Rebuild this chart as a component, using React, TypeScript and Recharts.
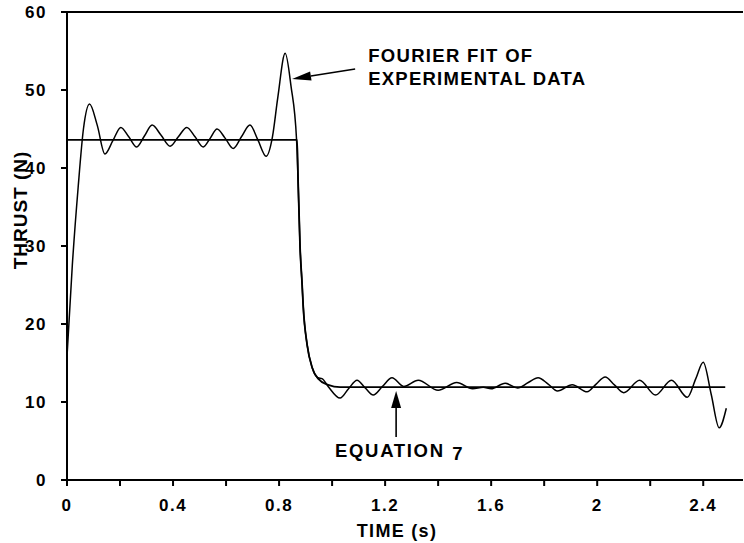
import React from 'react';
import { LineChart, Line, XAxis, YAxis, ReferenceLine, ReferenceDot } from 'recharts';

// Fourier fit of experimental data (time s, thrust N)
const fourierTime = [
  0.0, 0.02, 0.042, 0.062, 0.085, 0.114, 0.143, 0.173, 0.203, 0.233, 0.263, 0.292, 0.321, 0.355,
  0.389, 0.42, 0.452, 0.483, 0.514, 0.54, 0.566, 0.597, 0.627, 0.658, 0.69, 0.72, 0.751, 0.775,
  0.795, 0.823, 0.845, 0.866, 0.872, 0.879, 0.887, 0.891, 0.906, 0.925, 0.947, 0.962, 0.985,
  1.03, 1.062, 1.094, 1.125, 1.155, 1.19, 1.226, 1.27, 1.325, 1.4, 1.47, 1.53, 1.57, 1.6, 1.653,
  1.7, 1.74, 1.777, 1.815, 1.85, 1.906, 1.962, 1.996, 2.03, 2.065, 2.1, 2.16, 2.22, 2.28, 2.34,
  2.372, 2.4, 2.43, 2.46, 2.487,
];
const fourierThrust = [
  15.8, 27.5, 37.5, 45.0, 48.2, 45.5, 41.8, 43.5, 45.2, 44.0, 42.7, 44.1, 45.5, 44.2,
  42.8, 44.0, 45.2, 44.0, 42.7, 43.8, 45.0, 43.8, 42.5, 44.0, 45.5, 43.6, 41.5, 44.0,
  49.0, 54.7, 50.5, 43.6, 38.0, 30.0, 25.0, 22.3, 17.3, 14.4, 13.1, 13.0, 12.0,
  10.5, 11.7, 12.8, 11.8, 10.9, 12.0, 13.1, 12.0, 12.8, 11.5, 12.5, 11.7, 11.9, 11.7, 12.4,
  11.8, 12.5, 13.1, 12.3, 11.4, 12.2, 11.3, 12.3, 13.2, 12.2, 11.2, 12.8, 10.9, 12.8, 10.6,
  13.0, 15.1, 11.0, 6.7, 9.2,
];

// Equation 7 model
const equationTime = [0.0, 0.868, 0.872, 0.879, 0.887, 0.891, 0.906, 0.925, 0.947, 0.985, 1.03, 2.483];
const equationThrust = [43.6, 43.6, 38.0, 30.0, 25.0, 22.3, 17.3, 14.4, 13.0, 12.2, 11.9, 11.9];

const xTickValues = [0, 0.2, 0.4, 0.6, 0.8, 1.0, 1.2, 1.4, 1.6, 1.8, 2.0, 2.2, 2.4];
const xTickLabels = ['0', '', '0.4', '', '0.8', '', '1.2', '', '1.6', '', '2', '', '2.4'];
const yTickValues = [0, 10, 20, 30, 40, 50, 60];
const yTickLabels = ['0', '10', '20', '30', '40', '50', '60'];

const fourierData = fourierTime.map((t, i) => ({ t, thrust: fourierThrust[i] }));
const equationData = equationTime.map((t, i) => ({ t, thrust: equationThrust[i] }));

const FONT = "'Liberation Sans', Arial, sans-serif";
const textStyle = { fontFamily: FONT, fontWeight: 700 as const, fill: '#000' };

const XTick = (props: any) => {
  const { x, y, payload } = props;
  const idx = xTickValues.findIndex((v) => Math.abs(v - payload.value) < 1e-6);
  const label = idx >= 0 ? xTickLabels[idx] : '';
  return (
    <text x={x} y={y} dy="0.75em" textAnchor="middle" fontSize={17} letterSpacing={1.5} {...textStyle}>
      {label}
    </text>
  );
};

const YTick = (props: any) => {
  const { x, y, payload } = props;
  const idx = yTickValues.indexOf(payload.value);
  const label = idx >= 0 ? yTickLabels[idx] : '';
  return (
    <text x={x} y={y} dy="0.36em" textAnchor="end" fontSize={17} letterSpacing={1.5} {...textStyle}>
      {label}
    </text>
  );
};

const makeArrow = (headLen: number, headW: number) => (props: any) => {
  const { x1, y1, x2, y2 } = props;
  const dx = x2 - x1;
  const dy = y2 - y1;
  const len = Math.hypot(dx, dy) || 1;
  const ux = dx / len;
  const uy = dy / len;
  const bx = x2 - ux * headLen;
  const by = y2 - uy * headLen;
  const px = -uy;
  const py = ux;
  const pts = `${x2},${y2} ${bx + px * headW},${by + py * headW} ${bx - px * headW},${by - py * headW}`;
  return (
    <g>
      <line x1={x1} y1={y1} x2={bx} y2={by} stroke="#000" strokeWidth={1.6} />
      <polygon points={pts} fill="#000" />
    </g>
  );
};

const TextAt = (text: string, length: number, size = 18.5) => (props: any) => {
  const { cx, cy } = props;
  return (
    <text x={cx} y={cy} fontSize={size} textLength={length} lengthAdjust="spacing" {...textStyle}>
      {text}
    </text>
  );
};

export default function App() {
  return (
    <div style={{ position: 'absolute', left: 0, top: 0, background: '#fff' }}>
      <LineChart width={744} height={543} margin={{ top: 12, right: 1, bottom: 0, left: 0 }}>
        <XAxis
          type="number"
          dataKey="t"
          domain={[0, 2.55]}
          ticks={xTickValues}
          interval={0}
          allowDataOverflow
          height={63}
          stroke="#000"
          strokeWidth={2}
          tickSize={6}
          tickMargin={12}
          tick={<XTick />}
          label={{
            content: (p: any) => {
              const vb = p.viewBox || { x: 67, y: 480, width: 676 };
              return (
                <text x={vb.x + 330} y={vb.y + 57} textAnchor="middle" fontSize={18} letterSpacing={1.3} {...textStyle}>
                  TIME (s)
                </text>
              );
            },
          }}
        />
        <YAxis
          type="number"
          domain={[0, 60]}
          ticks={yTickValues}
          interval={0}
          allowDataOverflow
          width={67}
          stroke="#000"
          strokeWidth={2}
          tickSize={6}
          tickMargin={14}
          tick={<YTick />}
          label={{
            content: (p: any) => {
              const vb = p.viewBox || { x: 0, y: 12, width: 67, height: 468 };
              const cx = vb.x + 20;
              const cy = vb.y + vb.height / 2 - 36;
              return (
                <text
                  x={cx}
                  y={cy}
                  transform={`rotate(-90 ${cx} ${cy})`}
                  textAnchor="middle"
                  dominantBaseline="central"
                  fontSize={19}
                  letterSpacing={1}
                  {...textStyle}
                >
                  THRUST (N)
                </text>
              );
            },
          }}
        />
        <ReferenceLine y={60} stroke="#000" strokeWidth={2} />
        <Line
          data={equationData}
          dataKey="thrust"
          type="monotone"
          stroke="#000"
          strokeWidth={1.8}
          dot={false}
          isAnimationActive={false}
        />
        <Line
          data={fourierData}
          dataKey="thrust"
          type="monotone"
          stroke="#000"
          strokeWidth={1.5}
          dot={false}
          isAnimationActive={false}
        />
        <ReferenceLine
          segment={[{ x: 1.087, y: 52.7 }, { x: 0.849, y: 51.4 }]}
          shape={makeArrow(19, 4.5)}
        />
        <ReferenceLine
          segment={[{ x: 1.2415, y: 5.5 }, { x: 1.2415, y: 11.4 }]}
          shape={makeArrow(17, 5)}
        />
        <ReferenceDot x={1.136} y={53.6} shape={TextAt('FOURIER FIT OF', 164)} />
        <ReferenceDot x={1.136} y={50.6} shape={TextAt('EXPERIMENTAL DATA', 217)} />
        <ReferenceDot x={1.011} y={2.95} shape={TextAt('EQUATION', 108)} />
        <ReferenceDot x={1.453} y={2.56} shape={TextAt('7', 10)} />
      </LineChart>
    </div>
  );
}
